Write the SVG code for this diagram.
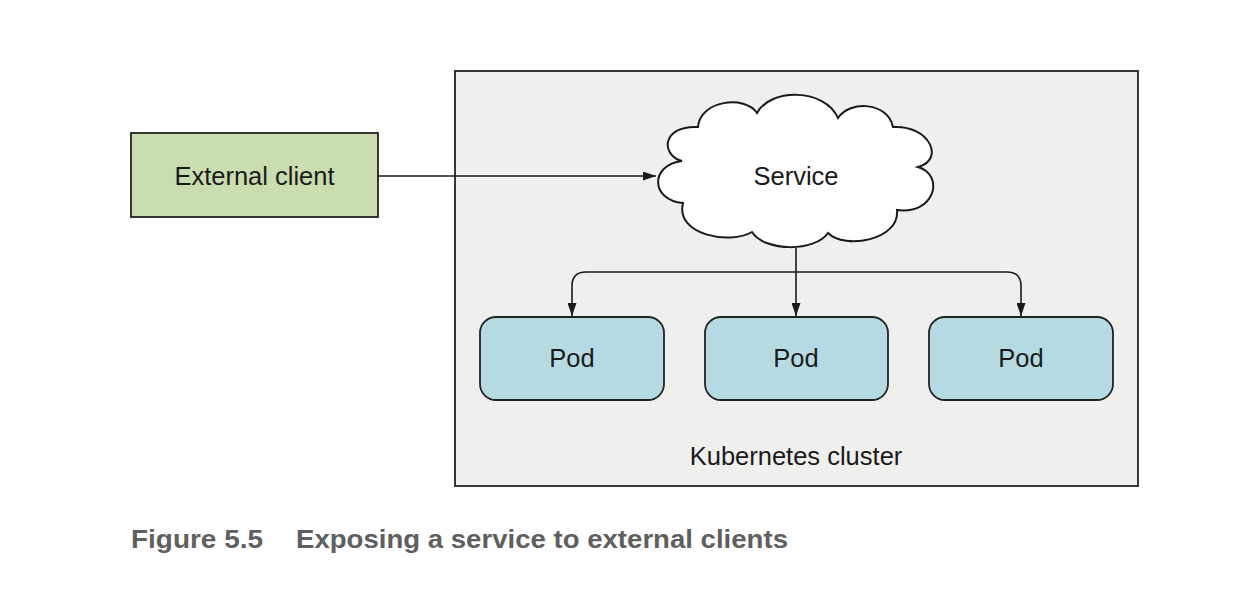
<svg xmlns="http://www.w3.org/2000/svg" width="1254" height="596" viewBox="0 0 1254 596">
<style>
.lbl{font-family:"Liberation Sans",Arial,sans-serif;font-size:25.5px;fill:#1a1a1a;text-anchor:middle}
.pod{fill:#b5dae2;stroke:#222;stroke-width:1.8}
.conn{fill:none;stroke:#1a1a1a;stroke-width:1.6}
.cap{font-family:"Liberation Sans",Arial,sans-serif;font-weight:bold;font-size:26px;fill:#5f5f5f}
</style>
<defs>
<marker id="ah" viewBox="0 0 13 9" refX="13" refY="4.5" markerWidth="13" markerHeight="9" markerUnits="userSpaceOnUse" orient="auto">
<path d="M0,0 L13,4.5 L0,9 Z" fill="#1a1a1a"/>
</marker>
</defs>
<rect width="1254" height="596" fill="#ffffff"/>
<g id="cluster">
<rect x="455" y="71" width="683" height="415" fill="#efefee" stroke="#222" stroke-width="1.8"/>
<text class="lbl" x="796" y="465">Kubernetes cluster</text>
</g>
<g id="client">
<rect x="131" y="133" width="247" height="84" fill="#c9ddb0" stroke="#222" stroke-width="1.8"/>
<text class="lbl" x="254.5" y="185">External client</text>
</g>
<g id="service">
<path d="M682,161 C660,155 662,125 698,127 C700,100 745,95 757,113 C770,88 825,88 838,118 C850,100 888,102 893,127 C930,125 945,160 918,167 C945,175 935,215 897,210 C900,240 845,250 828,233 C815,252 765,252 752,232 C730,245 675,235 683,203 C650,200 650,165 682,161 Z" fill="#ffffff" stroke="#1a1a1a" stroke-width="2"/>
<text class="lbl" x="796" y="185">Service</text>
</g>
<g id="pod1">
<rect class="pod" x="480" y="317" width="184" height="83" rx="16"/>
<text class="lbl" x="572" y="367">Pod</text>
</g>
<g id="pod2">
<rect class="pod" x="705" y="317" width="183" height="83" rx="16"/>
<text class="lbl" x="796" y="367">Pod</text>
</g>
<g id="pod3">
<rect class="pod" x="929" y="317" width="184" height="83" rx="16"/>
<text class="lbl" x="1021" y="367">Pod</text>
</g>
<g id="connectors">
<path class="conn" d="M378,176 H656" marker-end="url(#ah)"/>
<path class="conn" d="M796,248 V316" marker-end="url(#ah)"/>
<path class="conn" d="M796,272 H586 Q572,272 572,286 V316" marker-end="url(#ah)"/>
<path class="conn" d="M796,272 H1007 Q1021,272 1021,286 V316" marker-end="url(#ah)"/>
</g>
<g id="caption">
<text class="cap" x="131" y="548" textLength="132" lengthAdjust="spacingAndGlyphs">Figure 5.5</text>
<text class="cap" x="296" y="548" textLength="492" lengthAdjust="spacingAndGlyphs">Exposing a service to external clients</text>
</g>
</svg>
